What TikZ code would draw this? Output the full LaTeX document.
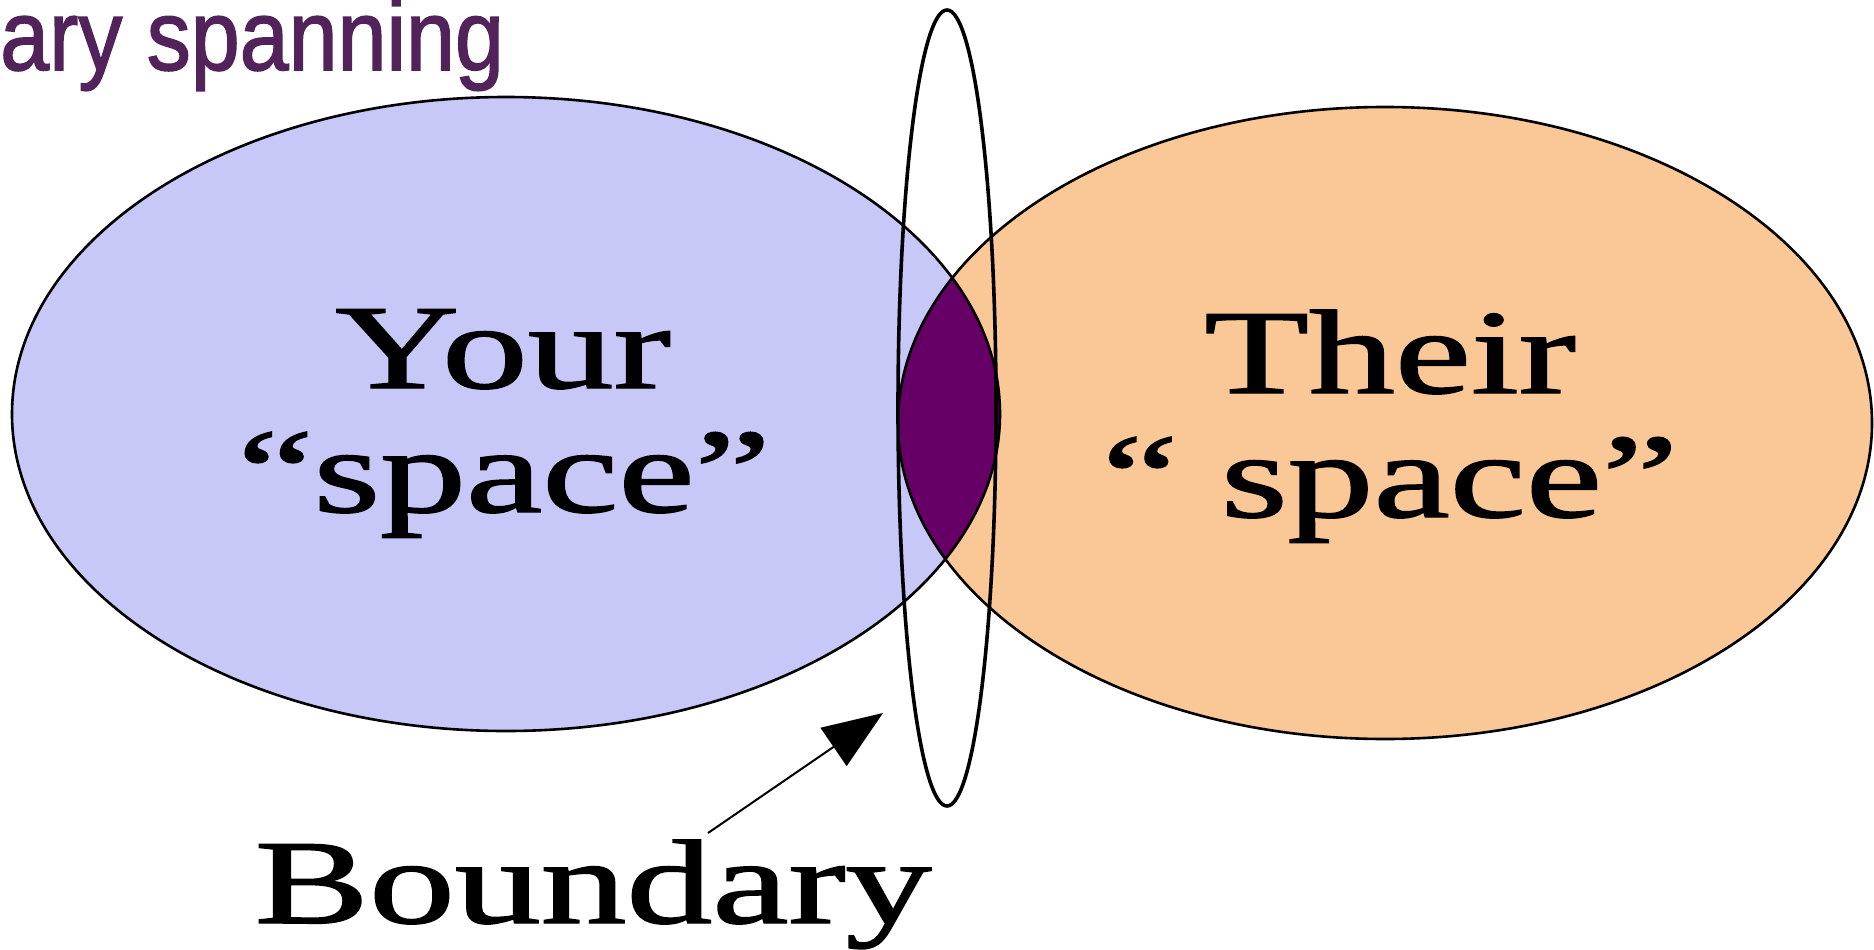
\documentclass[tikz,border=0pt]{standalone}
\usepackage{fontspec}
\setmainfont[FakeBold=1.2]{Liberation Serif}
\newfontfamily\titlefont[FakeBold=1.6]{Liberation Sans}
\newfontfamily\serifheavy[FakeBold=1.2]{Liberation Serif}
\usetikzlibrary{arrows.meta}
\definecolor{lav}{RGB}{200,200,248}
\definecolor{peach}{RGB}{250,200,150}
\definecolor{lenscol}{RGB}{102,0,102}
\definecolor{titlecol}{RGB}{82,35,91}
\begin{document}
\begin{tikzpicture}[x=1pt,y=-1pt,
  bigtext/.style={font=\serifheavy\fontsize{120}{120}\selectfont, inner sep=0, anchor=base},
  outline/.style={draw=black, line width=2.6pt},
  ringline/.style={draw=black, line width=3.6pt}]
\useasboundingbox (0,0) rectangle (1874,950);
\fill[white] (0,0) rectangle (1874,950);
% big ellipses
\fill[lav] (506,414) ellipse [x radius=494, y radius=317];
\fill[peach] (1385,423) ellipse [x radius=487, y radius=316];
\begin{scope}
  \clip (506,414) ellipse [x radius=494, y radius=317];
  \fill[lenscol] (1385,423) ellipse [x radius=487, y radius=316];
\end{scope}
\draw[outline] (506,414) ellipse [x radius=494, y radius=317];
\draw[outline] (1385,423) ellipse [x radius=487, y radius=316];
% boundary ring
\draw[ringline] (947,408) ellipse [x radius=49, y radius=398];
% texts
\node[anchor=base west, inner sep=0, text=titlecol, font=\titlefont\fontsize{100}{100}\selectfont] (title) at (0,70) {\scalebox{0.88}[1]{ary spanning}};
\node[bigtext] (your) at (503,388) {\scalebox{1.43}[1]{Your}};
\node[bigtext] (yourspace) at (504,512) {\scalebox{1.43}[1]{“space”}};
\node[bigtext] (their) at (1390,393) {\scalebox{1.43}[1]{Their}};
\node[bigtext] (theirspace) at (1390,517) {\scalebox{1.43}[1]{“ space”}};
\node[bigtext] (boundary) at (593,923) {\scalebox{1.43}[1]{Boundary}};
% arrow
\coordinate (tail) at (708,833);
\coordinate (tip) at (883,713);
\draw[line width=2pt, -{Triangle[length=60pt,width=46pt]}] (tail) -- (tip);
\end{tikzpicture}
\end{document}
